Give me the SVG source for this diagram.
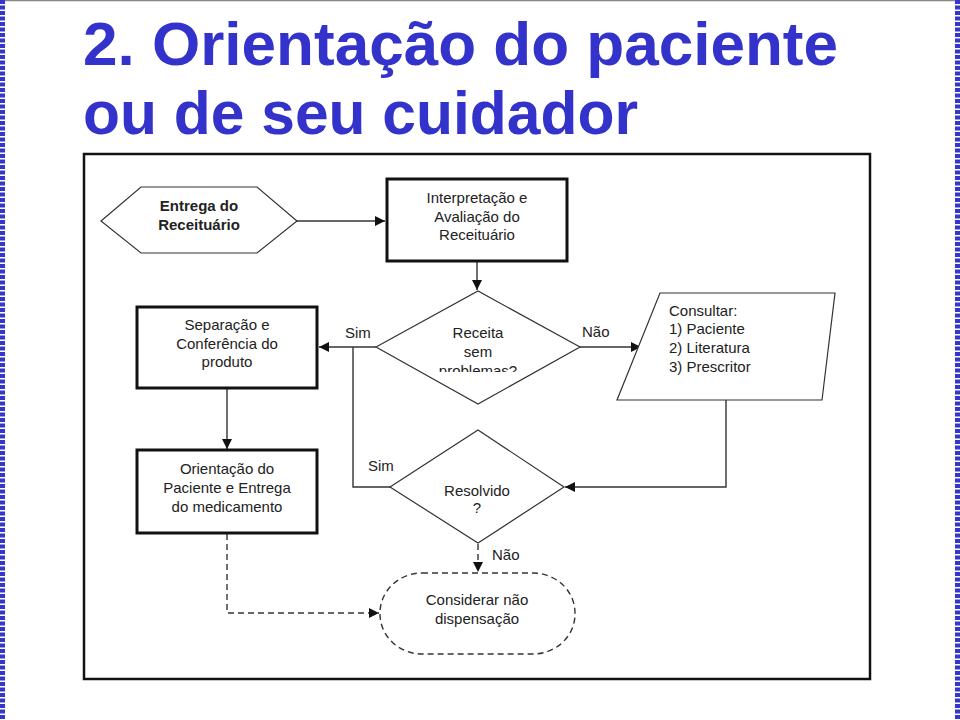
<svg xmlns="http://www.w3.org/2000/svg" width="960" height="720" viewBox="0 0 960 720">
<defs>
<style>
.title{font-family:"Liberation Sans",Arial,sans-serif;font-weight:bold;font-size:62px;fill:#3333cc}
.t{font-family:"Liberation Sans",Arial,sans-serif;font-size:15px;fill:#222;text-anchor:middle}
.tb{font-family:"Liberation Sans",Arial,sans-serif;font-size:15px;font-weight:bold;fill:#222;text-anchor:middle}
.tl{font-family:"Liberation Sans",Arial,sans-serif;font-size:15px;fill:#222}
.box{fill:#fff;stroke:#111;stroke-width:3}
.thin{fill:#fff;stroke:#333;stroke-width:1.2}
.dsh{fill:none;stroke:#333;stroke-width:1.4;stroke-dasharray:6 4}
.ln{fill:none;stroke:#333;stroke-width:1.4}
</style>
<marker id="ah" viewBox="0 0 10 10" refX="10" refY="5" markerWidth="10" markerHeight="10" markerUnits="userSpaceOnUse" orient="auto">
<path d="M0,0 L10,5 L0,10 z" fill="#111"/>
</marker>
<clipPath id="clipD"><rect x="370" y="290" width="220" height="82"/></clipPath>
</defs>
<rect width="960" height="720" fill="#fff"/>
<line x1="0" y1="0.5" x2="960" y2="0.5" stroke="#888" stroke-width="1.5"/>
<line x1="2.5" y1="0" x2="2.5" y2="720" stroke="#3338c8" stroke-width="5" stroke-dasharray="4 1.5"/>
<line x1="957.5" y1="0" x2="957.5" y2="720" stroke="#3338c8" stroke-width="5" stroke-dasharray="4 1.5"/>
<g id="title">
<text class="title" x="83" y="65" textLength="755" lengthAdjust="spacingAndGlyphs">2. Orientação do paciente</text>
<text class="title" x="83" y="134" textLength="555" lengthAdjust="spacingAndGlyphs">ou de seu cuidador</text>
</g>
<rect id="frame" x="84" y="154" width="786" height="525" fill="none" stroke="#111" stroke-width="2.5"/>
<g id="connectors">
<line class="ln" x1="297" y1="221" x2="385" y2="221" marker-end="url(#ah)"/>
<line class="ln" x1="477" y1="262" x2="477" y2="290" marker-end="url(#ah)"/>
<line class="ln" x1="376" y1="347" x2="319" y2="347" marker-end="url(#ah)"/>
<line class="ln" x1="580" y1="347" x2="641" y2="347" marker-end="url(#ah)"/>
<polyline class="ln" points="353,347 353,487 390,487"/>
<polyline class="ln" points="726,400 726,487 565,487" marker-end="url(#ah)"/>
<line class="ln" x1="227" y1="389" x2="227" y2="449" marker-end="url(#ah)"/>
<polyline class="dsh" points="227,534 227,613 379,613" marker-end="url(#ah)"/>
<line class="dsh" x1="478" y1="544" x2="478" y2="572" marker-end="url(#ah)"/>
<text class="tl" x="345" y="338">Sim</text>
<text class="tl" x="582" y="337">Não</text>
<text class="tl" x="368" y="471">Sim</text>
<text class="tl" x="492" y="560">Não</text>
</g>
<g id="entrega">
<polygon class="thin" points="101,221 141,187 257,187 297,221 257,253 141,253"/>
<text class="tb" x="199" y="211">Entrega do</text>
<text class="tb" x="199" y="230">Receituário</text>
</g>
<g id="interpretacao">
<rect class="box" x="387" y="179" width="180" height="82"/>
<text class="t" x="477" y="203">Interpretação e</text>
<text class="t" x="477" y="222">Avaliação do</text>
<text class="t" x="477" y="240">Receituário</text>
</g>
<g id="receita">
<polygon class="thin" points="376,347 478,291 580,347 478,404"/>
<g clip-path="url(#clipD)">
<text class="t" x="478" y="338">Receita</text>
<text class="t" x="478" y="357">sem</text>
<text class="t" x="478" y="376">problemas?</text>
</g>
</g>
<g id="separacao">
<rect class="box" x="137" y="307" width="180" height="81"/>
<text class="t" x="227" y="330">Separação e</text>
<text class="t" x="227" y="349">Conferência do</text>
<text class="t" x="227" y="367">produto</text>
</g>
<g id="consultar">
<polygon class="thin" points="660,293 835,293 822,400 617,400"/>
<text class="tl" x="669" y="316">Consultar:</text>
<text class="tl" x="669" y="334">1) Paciente</text>
<text class="tl" x="669" y="353">2) Literatura</text>
<text class="tl" x="669" y="372">3) Prescritor</text>
</g>
<g id="resolvido">
<polygon class="thin" points="390,487 478,430 564,487 478,543"/>
<text class="t" x="477" y="496">Resolvido</text>
<text class="t" x="477" y="513">?</text>
</g>
<g id="orientacao">
<rect class="box" x="137" y="450" width="180" height="83"/>
<text class="t" x="227" y="474">Orientação do</text>
<text class="t" x="227" y="493">Paciente e Entrega</text>
<text class="t" x="227" y="512">do medicamento</text>
</g>
<g id="considerar">
<rect class="dsh" x="380" y="573" width="195" height="81" rx="42" ry="40"/>
<text class="t" x="477" y="605">Considerar não</text>
<text class="t" x="477" y="624">dispensação</text>
</g>
</svg>
